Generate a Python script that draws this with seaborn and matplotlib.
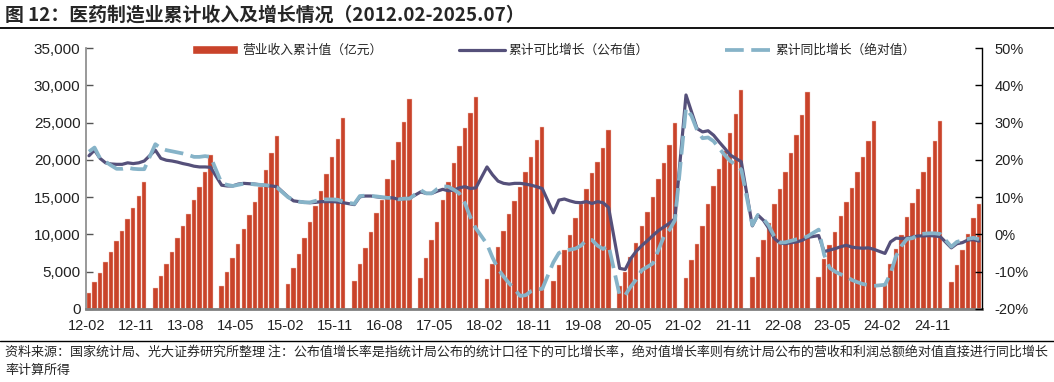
import pandas as pd
import seaborn as sns
import matplotlib.pyplot as plt
from matplotlib.lines import Line2D
from matplotlib.patches import Patch
from matplotlib.ticker import FuncFormatter

# 累计值 / 增长率, 每年 2月-12月 (1月无单独数据), 2025 到 7月
revenue = [
    2100, 3575, 4870, 6260, 7690, 9160, 10460, 12070, 13500, 15190, 17070,      # 2012
    2770, 4420, 6030, 7690, 9470, 11130, 12740, 14610, 16400, 18410, 20640,     # 2013
    3080, 5000, 6790, 8670, 10720, 12600, 14390, 16400, 18630, 20870, 23240,    # 2014
    3350, 5500, 7420, 9470, 11710, 13810, 15820, 18100, 20330, 22790, 25560,    # 2015
    3750, 5990, 8130, 10280, 12830, 14610, 17380, 19980, 22430, 25020, 28110,   # 2016
    4110, 6790, 9250, 11710, 14610, 17070, 19620, 21850, 24310, 26230, 28460,   # 2017
    3980, 6030, 8270, 10460, 12740, 14520, 16400, 18410, 20330, 22660, 24350,   # 2018
    3750, 5900, 7910, 9920, 12240, 14030, 16040, 18190, 19750, 21630, 24000,    # 2019
    3080, 5000, 7010, 8890, 11130, 12960, 15060, 17430, 19620, 21990, 24890,    # 2020
    4110, 6610, 8710, 11100, 14100, 16490, 18720, 21220, 23570, 26090, 29380,   # 2021
    4250, 6930, 9250, 11570, 14030, 16040, 18320, 20960, 23320, 25960, 29040,   # 2022
    4330, 6700, 8580, 10280, 12470, 14300, 16180, 18410, 20330, 22520, 25200,   # 2023
    3400, 6030, 8040, 9920, 12380, 14170, 16040, 18410, 20330, 22570, 25200,    # 2024
    3575, 5900, 7910, 10010, 12240, 14030,                                      # 2025
]
growth_reported = [
    21.1, 22.6, 20.4, 19.2, 18.9, 18.8, 18.8, 19.2, 19.0, 19.2, 19.7,
    22.6, 20.4, 19.9, 19.7, 19.4, 19.0, 18.7, 18.3, 18.1, 18.1, 18.0,
    13.2, 13.0, 13.0, 13.5, 13.7, 13.6, 13.5, 13.3, 13.1, 13.0, 12.8,
    10.1, 9.0, 8.8, 8.6, 8.5, 8.6, 8.8, 8.8, 8.8, 8.7, 8.5,
    8.0, 10.1, 10.3, 10.3, 10.1, 9.9, 9.9, 9.8, 9.4, 9.6, 9.7,
    11.4, 11.0, 11.0, 11.6, 12.1, 11.7, 11.9, 12.5, 12.8, 12.3, 12.5,
    18.1, 16.0, 14.3, 13.7, 13.5, 13.7, 13.7, 13.5, 13.2, 12.8, 12.3,
    5.8, 9.2, 9.5, 9.0, 8.6, 8.5, 8.8, 8.3, 8.8, 8.5, 7.2,
    -9.1, -9.4, -6.5, -4.5, -3.0, -1.7, -0.3, 1.0, 2.0, 3.0, 4.2,
    37.4, 32.9, 28.4, 27.5, 27.8, 26.6, 24.8, 23.1, 21.3, 20.4, 19.5,
    2.3, 5.2, 3.8, 1.6, -1.1, -2.3, -2.5, -2.2, -2.0, -1.6, -0.8,
    -0.3, -4.6, -4.2, -3.8, -3.3, -2.9, -3.4, -3.6, -3.7, -3.6, -4.0,
    -5.1, -2.0, -1.0, -1.1, -1.0, -0.7, -0.4, -0.4, -0.3, -0.4, -0.6,
    -3.6, -2.5, -2.2, -1.5, -1.4, -1.8,
]
growth_absolute = [
    22.2, 23.3, 20.4, 19.5, 18.5, 17.6, 17.6, 17.9, 17.6, 17.5, 17.5,
    24.2, 23.1, 22.6, 22.3, 22.0, 21.7, 21.3, 20.8, 20.8, 21.0, 20.8,
    13.7, 13.3, 13.0, 13.3, 13.6, 13.6, 13.4, 13.3, 13.2, 13.0, 12.6,
    10.0, 9.2, 8.8, 8.6, 8.6, 9.0, 9.4, 9.4, 9.4, 9.3, 8.8,
    8.2, 10.3, 10.4, 10.3, 10.2, 10.0, 9.8, 9.8, 9.4, 9.6, 9.6,
    11.9, 11.0, 11.0, 12.2, 12.9, 12.8, 12.0, 11.0, 8.4, 4.6, 1.6,
    -2.6, -6.2, -9.2, -11.3, -13.1, -14.7, -16.5, -16.3, -15.2, -14.7, -14.6,
    -7.5, -5.0, -4.3, -4.1, -3.8, -3.0, -1.5, -1.5, -3.0, -3.9, -3.0,
    -16.3, -16.3, -14.0, -12.1, -9.6, -8.7, -7.8, -4.2, -0.6, 1.2, 3.8,
    33.9, 31.8, 28.0, 25.8, 26.0, 25.0, 23.1, 21.3, 19.7, 18.7, 17.4,
    2.5, 5.2, 4.2, 2.3, -0.6, -2.2, -2.1, -1.7, -1.3, -1.1, -0.5,
    1.3, -5.5, -9.0, -10.0, -10.7, -11.3, -12.2, -12.8, -13.3, -13.6, -13.8,
    -13.5, -10.5, -5.8, -3.0, -1.2, -1.0, 0.0, 0.2, 0.3, 0.3, 0.1,
    -3.3, -2.0, -1.6, -1.2, -0.9, -1.3,
]
tick_labels = ['12-02', '12-11', '13-08', '14-05', '15-02', '15-11', '16-08', '17-05', '18-02',
               '18-11', '19-08', '20-05', '21-02', '21-11', '22-08', '23-05', '24-02', '24-11']

# month index counted from 2012-02 (january slots stay empty)
months = [(y, m) for y in range(2012, 2026) for m in range(2, 13) if not (y == 2025 and m > 7)]
pos = [(y - 2012) * 12 + m - 2 for y, m in months]
df = pd.DataFrame({'pos': pos, 'revenue': revenue,
                   'reported': growth_reported, 'absolute': growth_absolute})

BAR = '#C9432A'
DARK = '#55507A'
LIGHT = '#86B3C8'

sns.set_theme(style='white')
plt.rcParams['font.family'] = ['Noto Sans CJK SC', 'DejaVu Sans']
plt.rcParams['axes.unicode_minus'] = False
num_font = ['Liberation Sans', 'DejaVu Sans']

fig = plt.figure(figsize=(10.54, 3.82), dpi=100)
ax = fig.add_axes([86 / 1054, 1 - 309 / 382, 896 / 1054, 261 / 382])

sns.barplot(data=df, x='pos', y='revenue', native_scale=True, color=BAR, saturation=1,
            width=0.8, edgecolor='#F4C7BC', linewidth=0.3, errorbar=None, ax=ax)
ax.set_xlim(-0.54, 161.55)
ax.set_ylim(0, 35000)
ax.set_yticks(range(0, 35001, 5000))
ax.yaxis.set_major_formatter(FuncFormatter(lambda v, p: f'{v:,.0f}'))
ax.set_xticks([(int(t[:2]) - 12) * 12 + int(t[3:]) - 2 - 0.5 for t in tick_labels])
ax.set_xticklabels(tick_labels)
ax.set_xlabel('')
ax.set_ylabel('')

ax2 = ax.twinx()
sns.lineplot(data=df, x='pos', y='reported', color=DARK, lw=2.3, ax=ax2)
sns.lineplot(data=df, x='pos', y='absolute', color=LIGHT, lw=2.7,
             linestyle=(0, (5, 2)), ax=ax2)
ax2.set_ylim(-20, 50)
ax2.set_yticks(range(-20, 51, 10))
ax2.yaxis.set_major_formatter(FuncFormatter(lambda v, p: f'{v:.0f}%'))
ax2.set_xlim(-0.54, 161.55)
ax2.set_ylabel('')

for s in ['top', 'right']:
    ax.spines[s].set_visible(False)
ax.spines['left'].set_color('#8C8C8C')
ax.spines['bottom'].set_color('#7F7F7F')
ax.spines['bottom'].set_linewidth(2)
for s in ['top', 'left', 'bottom']:
    ax2.spines[s].set_visible(False)
ax2.spines['right'].set_color('black')
ax2.spines['right'].set_linewidth(1)

ax.tick_params(axis='x', direction='in', length=4, width=1, color='#333333', pad=7, labelsize=10.5)
ax.tick_params(axis='y', direction='in', length=5, width=1, color='#555555', pad=4, labelsize=11)
ax2.tick_params(axis='y', direction='in', length=5, width=1, color='black', pad=9, labelsize=10.5)
for lab in ax.get_xticklabels() + ax.get_yticklabels() + ax2.get_yticklabels():
    lab.set_family(num_font)
    lab.set_color('#222222')

handles = [Patch(facecolor=BAR),
           Line2D([], [], color=DARK, lw=2.3),
           Line2D([], [], color=LIGHT, lw=2.7, linestyle=(0, (5, 2)))]
labels = ['营业收入累计值（亿元）', '累计可比增长（公布值）', '累计同比增长（绝对值）']
ax2.legend(handles, labels, loc='center', bbox_to_anchor=(0.522, 0.99), ncol=3, frameon=False,
           fontsize=9.2, handlelength=3.6, columnspacing=6.0, handletextpad=0.3)

fig.text(0.005, 1 - 15 / 382, '图 12：医药制造业累计收入及增长情况（2012.02-2025.07）',
         fontsize=13.6, fontweight='bold', va='center', ha='left')
fig.add_artist(Line2D([0, 1], [1 - 28 / 382] * 2, color='black', lw=1.3))
fig.add_artist(Line2D([0, 1], [1 - 341 / 382] * 2, color='black', lw=1))
fig.text(0.005, 1 - 352 / 382,
         '资料来源：国家统计局、光大证券研究所整理 注：公布值增长率是指统计局公布的统计口径下的可比增长率，'
         '绝对值增长率则有统计局公布的营收和利润总额绝对值直接进行同比增长',
         fontsize=9.4, va='center', ha='left')
fig.text(0.005, 1 - 370 / 382, '率计算所得', fontsize=9.4, va='center', ha='left')

fig.savefig('out.png', dpi=100)
